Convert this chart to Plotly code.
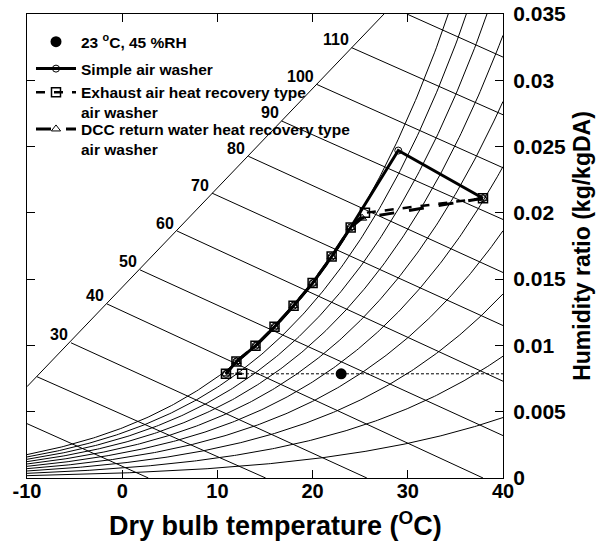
import numpy as np
import plotly.graph_objects as go

# ---------------- data ----------------
# relative humidity levels of the background curves (fraction)
rh_levels = [0.1, 0.2, 0.3, 0.4, 0.5, 0.6, 0.7, 0.8, 0.9, 1.0]
t_grid = np.linspace(-10, 40, 251)
P_atm = 101.325  # kPa

# enthalpy lines (kJ/kg): start point on the scale line and end point on the frame
h_values = [10, 20, 30, 40, 50, 60, 70, 80, 90, 100, 110, 120]
h_start_t = [-10, -8.95, -5.38, -1.6, 1.87, 5.76, 9.43, 13.25, 16.75, 20.43, 24.1, 29.9]
h_start_w = [0.0041, 0.00764, 0.0102, 0.01313, 0.0157, 0.01863, 0.02149, 0.02427,
             0.02693, 0.02969, 0.03246, 0.035]
h_end_t = [2.75, 15.07, 25.7, 37.9, 40, 40, 40, 40, 40, 40, 40, 40]
h_end_w = [0, 0, 0, 0, 0.0032, 0.0073, 0.0115, 0.0155, 0.0195, 0.0234, 0.0274, 0.03175]
h_labeled = [30, 40, 50, 60, 70, 80, 90, 100, 110]

# enthalpy scale line
scale_t = [-10, 27.5]
scale_w = [0.00689, 0.035]

# indoor design point 23 C, 45 %RH
room_t = [23.0]
room_w = [0.00786]

# supply (reheat) line
reheat_t = [10.9, 40]
reheat_w = [0.00786, 0.00786]

# process points along the saturation curve
sat_t = [24, 22, 20, 18, 16, 14, 12, 10.9]
sat_w = [0.0189, 0.0167, 0.0147, 0.0130, 0.0114, 0.00997, 0.00879, 0.00786]

outdoor_t, outdoor_w = 37.9, 0.0211

simple_t = [outdoor_t, 29.0] + sat_t
simple_w = [outdoor_w, 0.0247] + sat_w

exhaust_t = [outdoor_t, 25.5] + sat_t + [12.6]
exhaust_w = [outdoor_w, 0.0200] + sat_w + [0.00786]

dcc_t = [outdoor_t, 25.2] + sat_t
dcc_w = [outdoor_w, 0.0196] + sat_w

x_ticks = [-10, 0, 10, 20, 30, 40]
x_ticktext = ["-10", "0", "10", "20", "30", "40"]
y_ticks = [0, 0.005, 0.01, 0.015, 0.02, 0.025, 0.03, 0.035]
y_ticktext = ["0", "0.005", "0.01", "0.015", "0.02", "0.025", "0.03", "0.035"]

# ---------------- figure ----------------
FONT = "Liberation Sans, Arial, sans-serif"
fig = go.Figure()


def w_of(t, rh):
    pws = 0.61094 * np.exp(17.625 * t / (t + 243.04))
    pw = rh * pws
    return 0.622 * pw / (P_atm - pw)


for rh in rh_levels:
    fig.add_trace(go.Scatter(x=t_grid, y=w_of(t_grid, rh), mode="lines",
                             line=dict(color="black", width=1),
                             showlegend=False, hoverinfo="skip"))

for i in range(len(h_values)):
    fig.add_trace(go.Scatter(x=[h_start_t[i], h_end_t[i]], y=[h_start_w[i], h_end_w[i]],
                             mode="lines", line=dict(color="black", width=1),
                             showlegend=False, hoverinfo="skip"))

fig.add_trace(go.Scatter(x=scale_t, y=scale_w, mode="lines",
                         line=dict(color="black", width=1),
                         showlegend=False, hoverinfo="skip"))

fig.add_trace(go.Scatter(x=reheat_t, y=reheat_w, mode="lines",
                         line=dict(color="black", width=1, dash="3px,2px"),
                         showlegend=False, hoverinfo="skip"))

fig.add_trace(go.Scatter(x=room_t, y=room_w, mode="markers",
                         marker=dict(symbol="circle", size=11, color="black"),
                         name="23 <sup>o</sup>C, 45 %RH", legend="legend"))

fig.add_trace(go.Scatter(x=simple_t, y=simple_w, mode="lines+markers",
                         line=dict(color="black", width=3),
                         marker=dict(symbol="circle-open", size=7, color="black",
                                     line=dict(width=1)),
                         name="Simple air washer", legend="legend2"))

fig.add_trace(go.Scatter(x=exhaust_t, y=exhaust_w, mode="lines+markers",
                         line=dict(color="black", width=2.5, dash="dash"),
                         marker=dict(symbol="square-open", size=9, color="black",
                                     line=dict(width=1.5)),
                         name="Exhaust air heat recovery type<br>air washer",
                         legend="legend3"))

fig.add_trace(go.Scatter(x=dcc_t, y=dcc_w, mode="lines+markers",
                         line=dict(color="black", width=3, dash="longdash"),
                         marker=dict(symbol="triangle-up-open", size=8, color="black",
                                     line=dict(width=1)),
                         name="DCC return water heat recovery type<br>air washer",
                         legend="legend4"))

for i, h in enumerate(h_values):
    if h in h_labeled:
        fig.add_annotation(x=h_start_t[i], y=h_start_w[i], text=str(h), showarrow=False,
                           xanchor="right", yanchor="middle", xshift=-1, yshift=8,
                           font=dict(family=FONT, size=16, color="black", weight="bold"))

fig.add_annotation(xref="paper", yref="paper", x=0.523, y=-0.1,
                   xanchor="center", yanchor="middle", showarrow=False,
                   text="Dry bulb temperature (<sup>O</sup>C)",
                   font=dict(family=FONT, size=27, color="black", weight="bold"))

leg_font = dict(family=FONT, size=15.5, color="black", weight="bold")


def leg(y):
    return dict(x=0.0084, y=y, xanchor="left", yanchor="top",
                bgcolor="rgba(0,0,0,0)", borderwidth=0, valign="top",
                itemwidth=40, font=leg_font)


fig.update_layout(
    width=610, height=548,
    margin=dict(l=27, r=107, t=14, b=70, autoexpand=False),
    plot_bgcolor="white", paper_bgcolor="white",
    font=dict(family=FONT, color="black"),
    showlegend=True,
    legend=leg(0.976),
    legend2=leg(0.918),
    legend3=leg(0.867),
    legend4=leg(0.788),
    xaxis=dict(range=[-10, 40], tickvals=x_ticks, ticktext=x_ticktext,
               ticks="inside", ticklen=8, tickcolor="black", mirror="ticks",
               showline=True, linecolor="black", linewidth=1, showgrid=False,
               zeroline=False, ticklabelstandoff=-5, ticklabeloverflow="allow",
               tickfont=dict(family=FONT, size=20, color="black", weight="bold")),
    yaxis=dict(range=[0, 0.035], tickvals=y_ticks, ticktext=y_ticktext, side="right",
               ticks="inside", ticklen=8, tickcolor="black", mirror="ticks",
               showline=True, linecolor="black", linewidth=1, showgrid=False,
               zeroline=False, ticklabelstandoff=5, ticklabeloverflow="allow",
               tickfont=dict(family=FONT, size=21, color="black", weight="bold"),
               title=dict(text="Humidity ratio (kg/kgDA)", standoff=8,
                          font=dict(family=FONT, size=23, color="black", weight="bold"))),
)

fig.write_html("out.html", config={"displayModeBar": False},
               post_script="document.body.style.margin='0';")
